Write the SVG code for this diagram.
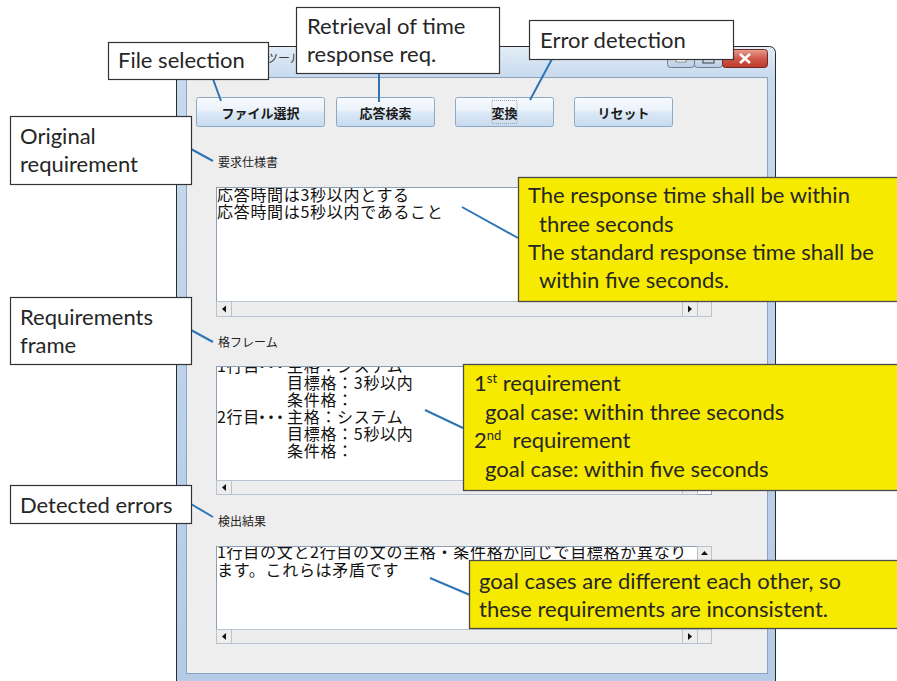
<svg xmlns="http://www.w3.org/2000/svg" width="897" height="681" viewBox="0 0 897 681">
  <defs>
    <linearGradient id="frameGrad" x1="0" y1="0" x2="0" y2="1">
      <stop offset="0" stop-color="#e3edf7"/>
      <stop offset="0.05" stop-color="#c6d9ee"/>
      <stop offset="1" stop-color="#b3cbe5"/>
    </linearGradient>
    <linearGradient id="btnGrad" x1="0" y1="0" x2="0" y2="1">
      <stop offset="0" stop-color="#f8fbfe"/>
      <stop offset="0.45" stop-color="#eaf2fa"/>
      <stop offset="0.5" stop-color="#dce9f6"/>
      <stop offset="1" stop-color="#c8dbef"/>
    </linearGradient>
    <linearGradient id="closeGrad" x1="0" y1="0" x2="0" y2="1">
      <stop offset="0" stop-color="#e8a093"/>
      <stop offset="0.5" stop-color="#d0584a"/>
      <stop offset="1" stop-color="#c0392b"/>
    </linearGradient>
    <linearGradient id="ctrlGrad" x1="0" y1="0" x2="0" y2="1">
      <stop offset="0" stop-color="#e9f1fa"/>
      <stop offset="1" stop-color="#b8cde4"/>
    </linearGradient>
    <clipPath id="clipReq"><rect x="217" y="188" width="480" height="113"/></clipPath>
    <clipPath id="clipFrame"><rect x="217" y="367" width="480" height="113"/></clipPath>
    <clipPath id="clipResult"><rect x="217" y="547" width="480" height="82"/></clipPath>
  </defs>
  <style>
    .note { fill: #ffffff; stroke: #333333; stroke-width: 1.2; }
    .hl { fill: #f6ea00; stroke: #4a4a4a; stroke-width: 1.3; }
    .lbl { font-family: Lato, "Open Sans", "Liberation Sans", sans-serif; font-size: 22px; fill: #262626; }
    .jp { font-family: "Noto Sans CJK JP", "Noto Sans CJK SC", sans-serif; font-size: 16px; letter-spacing: 0.7px; fill: #111111; }
    .jps { font-family: "Noto Sans CJK JP", sans-serif; font-size: 12px; fill: #222222; }
    .btn { fill: url(#btnGrad); stroke: #8ea9c6; stroke-width: 1; }
    .btxt { font-family: "Noto Sans CJK JP", sans-serif; font-weight: bold; font-size: 13px; fill: #1a1a1a; text-anchor: middle; }
    .area { fill: #ffffff; stroke: #8d9fb5; stroke-width: 1; }
    .track { fill: #ededed; stroke: #b8c3d0; stroke-width: 1; }
    .arrow { fill: #111111; }
    .link { stroke: #2e75b6; stroke-width: 2; fill: none; }
  </style>

  <rect x="0" y="0" width="897" height="681" fill="#ffffff"/>

  <!-- application window -->
  <g id="window">
    <rect x="176.5" y="46.5" width="599" height="645" rx="6" fill="url(#frameGrad)" stroke="#2b2b2b"/>
    <text x="266" y="63" font-family="'Noto Sans CJK JP', sans-serif" font-size="12" fill="#3a3a3a">ツール</text>
    <!-- caption buttons -->
    <rect x="667.5" y="49.5" width="27" height="18" rx="3" fill="url(#ctrlGrad)" stroke="#6d7f95"/>
    <rect x="694.5" y="49.5" width="28" height="18" rx="3" fill="url(#ctrlGrad)" stroke="#6d7f95"/>
    <rect x="676" y="59" width="10" height="3" fill="#ffffff" stroke="#555" stroke-width="0.6"/>
    <rect x="703" y="55" width="11" height="8" fill="none" stroke="#555" stroke-width="1.2"/>
    <rect x="722.5" y="49.5" width="45" height="18" rx="3" fill="url(#closeGrad)" stroke="#6b2a22"/>
    <path d="M740 54 L750 63 M750 54 L740 63" stroke="#ffffff" stroke-width="2.6"/>
    <!-- client area -->
    <rect x="186.5" y="77.5" width="581" height="596" fill="#efeeee" stroke="#8aa3bf"/>
  </g>

  <!-- tool buttons -->
  <g id="btn-file">
    <rect class="btn" x="196.5" y="97.5" width="128" height="29" rx="2"/>
    <text class="btxt" x="260.5" y="118">ファイル選択</text>
  </g>
  <g id="btn-search">
    <rect class="btn" x="336.5" y="97.5" width="98" height="29" rx="2"/>
    <text class="btxt" x="385.5" y="118">応答検索</text>
  </g>
  <g id="btn-convert">
    <rect class="btn" x="455.5" y="97.5" width="98" height="29" rx="2"/>
    <rect x="492" y="100.5" width="25" height="23" fill="none" stroke="#9aa4ae" stroke-width="1" stroke-dasharray="1 1"/>
    <text class="btxt" x="504.5" y="118">変換</text>
  </g>
  <g id="btn-reset">
    <rect class="btn" x="574.5" y="97.5" width="98" height="29" rx="2"/>
    <text class="btxt" x="623.5" y="118">リセット</text>
  </g>

  <!-- requirement specification pane -->
  <g id="pane-req">
    <text class="jps" x="218" y="167">要求仕様書</text>
    <rect class="area" x="216.5" y="187.5" width="495" height="129"/>
    <rect class="track" x="697.5" y="187.5" width="14" height="114"/>
    <rect class="track" x="216.5" y="301.5" width="481" height="15"/>
    <rect class="track" x="216.5" y="301.5" width="15" height="15"/>
    <path class="arrow" d="M222 309 L226 305.5 L226 312.5 Z"/>
    <rect class="track" x="682.5" y="301.5" width="15" height="15"/>
    <path class="arrow" d="M692 309 L688 305.5 L688 312.5 Z"/>
    <rect x="697.5" y="301.5" width="14" height="15" fill="#ededed" stroke="#b8c3d0"/>
    <g clip-path="url(#clipReq)">
      <text class="jp"><tspan x="217" y="201">応答時間は3秒以内とする</tspan><tspan x="217" y="218">応答時間は5秒以内であること</tspan></text>
    </g>
  </g>

  <!-- case frame pane -->
  <g id="pane-frame">
    <text class="jps" x="218" y="347">格フレーム</text>
    <rect class="area" x="216.5" y="366.5" width="495" height="128"/>
    <rect class="track" x="697.5" y="366.5" width="14" height="114"/>
    <rect class="track" x="216.5" y="480.5" width="481" height="14"/>
    <rect class="track" x="216.5" y="480.5" width="15" height="14"/>
    <path class="arrow" d="M222 487.5 L226 484 L226 491 Z"/>
    <rect class="track" x="682.5" y="480.5" width="15" height="14"/>
    <path class="arrow" d="M692 487.5 L688 484 L688 491 Z"/>
    <g clip-path="url(#clipFrame)">
      <text class="jp"><tspan x="217" y="372">1行目</tspan><tspan x="254 263 272" y="372">・・・</tspan><tspan x="287" y="372">主格：システム</tspan><tspan x="287" y="389">目標格：3秒以内</tspan><tspan x="287" y="406">条件格：</tspan><tspan x="217" y="423">2行目</tspan><tspan x="254 263 272" y="423">・・・</tspan><tspan x="287" y="423">主格：システム</tspan><tspan x="287" y="440">目標格：5秒以内</tspan><tspan x="287" y="457">条件格：</tspan></text>
    </g>
  </g>

  <!-- detection result pane -->
  <g id="pane-result">
    <text class="jps" x="218" y="526">検出結果</text>
    <rect class="area" x="216.5" y="546.5" width="495" height="97"/>
    <rect class="track" x="697.5" y="546.5" width="14" height="83"/>
    <rect class="track" x="697.5" y="546.5" width="14" height="15"/>
    <path class="arrow" d="M704.5 551 L701 555 L708 555 Z"/>
    <rect class="track" x="697.5" y="614.5" width="14" height="15"/>
    <rect class="track" x="216.5" y="629.5" width="481" height="14"/>
    <rect class="track" x="216.5" y="629.5" width="15" height="14"/>
    <path class="arrow" d="M222 636.5 L226 633 L226 640 Z"/>
    <rect class="track" x="682.5" y="629.5" width="15" height="14"/>
    <path class="arrow" d="M692 636.5 L688 633 L688 640 Z"/>
    <rect x="697.5" y="629.5" width="14" height="14" fill="#ededed" stroke="#b8c3d0"/>
    <g clip-path="url(#clipResult)">
      <text class="jp"><tspan x="217" y="558">1行目の文と2行目の文の主格・条件格が同じで目標格が異なり</tspan><tspan x="217" y="576">ます。これらは矛盾です</tspan></text>
    </g>
  </g>

  <!-- leader lines -->
  <g id="connectors">
    <line class="link" x1="213" y1="79" x2="221" y2="101"/>
    <line class="link" x1="379" y1="74" x2="379" y2="102"/>
    <line class="link" x1="552" y1="59" x2="530" y2="100"/>
    <line class="link" x1="191" y1="149" x2="213" y2="161"/>
    <line class="link" x1="191" y1="330" x2="213" y2="342"/>
    <line class="link" x1="191" y1="504" x2="213" y2="517"/>
    <line class="link" x1="462" y1="207" x2="518" y2="238"/>
    <line class="link" x1="425" y1="410" x2="463" y2="428"/>
    <line class="link" x1="430" y1="578" x2="470" y2="595"/>
  </g>

  <!-- white annotation boxes -->
  <g id="note-file">
    <rect class="note" x="108.5" y="42.5" width="160" height="37"/>
    <text class="lbl" x="118" y="68">File selection</text>
  </g>
  <g id="note-retrieval">
    <rect class="note" x="296.5" y="7.5" width="203" height="66"/>
    <text class="lbl" x="307" y="34">Retrieval of time</text>
    <text class="lbl" x="307" y="62">response req.</text>
  </g>
  <g id="note-error">
    <rect class="note" x="529.5" y="20.5" width="204" height="39"/>
    <text class="lbl" x="540" y="48">Error detection</text>
  </g>
  <g id="note-original">
    <rect class="note" x="10.5" y="116.5" width="181" height="68"/>
    <text class="lbl" x="20" y="144">Original</text>
    <text class="lbl" x="20" y="172">requirement</text>
  </g>
  <g id="note-frame">
    <rect class="note" x="10.5" y="297.5" width="181" height="67"/>
    <text class="lbl" x="20" y="325">Requirements</text>
    <text class="lbl" x="20" y="353">frame</text>
  </g>
  <g id="note-detected">
    <rect class="note" x="10.5" y="485.5" width="181" height="38"/>
    <text class="lbl" x="20" y="513">Detected errors</text>
  </g>

  <!-- yellow translation boxes -->
  <g id="trans-req">
    <rect class="hl" x="518.5" y="177.5" width="390" height="124"/>
    <text class="lbl" x="528" y="203">The response time shall be within</text>
    <text class="lbl" x="539" y="232">three seconds</text>
    <text class="lbl" x="528" y="260">The standard response time shall be</text>
    <text class="lbl" x="539" y="288">within five seconds.</text>
  </g>
  <g id="trans-frame">
    <rect class="hl" x="463.5" y="364.5" width="445" height="126"/>
    <text class="lbl" x="474" y="391">1<tspan font-size="13" dy="-8">st</tspan><tspan dy="8"> requirement</tspan></text>
    <text class="lbl" x="485" y="420">goal case: within three seconds</text>
    <text class="lbl" x="474" y="448">2<tspan font-size="13" dy="-8">nd</tspan><tspan dy="8" xml:space="preserve">  requirement</tspan></text>
    <text class="lbl" x="485" y="477">goal case: within five seconds</text>
  </g>
  <g id="trans-result">
    <rect class="hl" x="469.5" y="560.5" width="440" height="68"/>
    <text class="lbl" x="479" y="589">goal cases are different each other, so</text>
    <text class="lbl" x="479" y="617">these requirements are inconsistent.</text>
  </g>
</svg>
